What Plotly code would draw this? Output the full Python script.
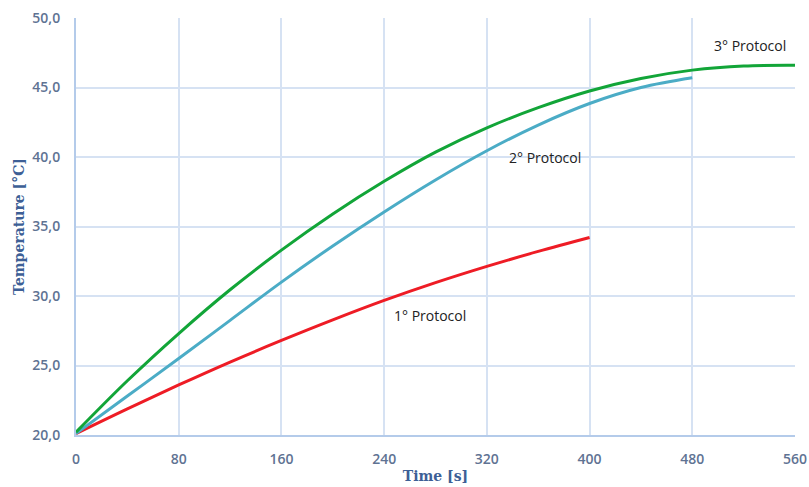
import plotly.graph_objects as go

time_1 = [0, 40, 80, 120, 160, 200, 240, 280, 320, 360, 400]
temp_1 = [20.1, 21.88, 23.6, 25.25, 26.8, 28.28, 29.68, 30.96, 32.13, 33.21, 34.21]

time_2 = [0, 40, 80, 120, 160, 200, 240, 280, 320, 360, 400, 440, 480]
temp_2 = [20.1, 22.8, 25.5, 28.25, 31.0, 33.6, 36.05, 38.35, 40.45, 42.3, 43.85, 45.0, 45.7]

time_3 = [0, 40, 80, 120, 160, 200, 240, 280, 320, 360, 400, 440, 480, 520, 560]
temp_3 = [20.2, 23.9, 27.3, 30.45, 33.3, 35.9, 38.25, 40.35, 42.1, 43.55, 44.75, 45.65, 46.25, 46.55, 46.6]

labels = ["1° Protocol", "2° Protocol", "3° Protocol"]
label_x = [276, 365, 525]
label_y = [28.6, 40.0, 48.0]

x_ticks = [0, 80, 160, 240, 320, 400, 480, 560]
y_ticks = [20, 25, 30, 35, 40, 45, 50]

fig = go.Figure()
fig.add_trace(go.Scatter(x=time_1, y=temp_1, mode="lines", line=dict(color="#ee1c25", width=3, shape="spline"), name=labels[0]))
fig.add_trace(go.Scatter(x=time_2, y=temp_2, mode="lines", line=dict(color="#4bacc6", width=3, shape="spline"), name=labels[1]))
fig.add_trace(go.Scatter(x=time_3, y=temp_3, mode="lines", line=dict(color="#12a538", width=3, shape="spline"), name=labels[2]))

for t, x, y in zip(labels, label_x, label_y):
    fig.add_annotation(x=x, y=y, text=t, showarrow=False,
                       font=dict(family="Open Sans, sans-serif", size=14, color="#222222"))

grid = "#d6e2f3"
tickfont = dict(family="Open Sans, sans-serif", size=14, color="#5f7393", weight=600)
titlefont = dict(family="DejaVu Serif, serif", size=14, color="#3d5f96")

fig.update_layout(
    width=809, height=487,
    margin=dict(l=76, r=14, t=18, b=52),
    plot_bgcolor="white", paper_bgcolor="white",
    showlegend=False,
    separators=",.",
    xaxis=dict(range=[0, 560], tickvals=x_ticks, showgrid=True, gridcolor=grid, gridwidth=1.5,
               zeroline=False, showline=True, linecolor="#b4cbea", linewidth=2, automargin=False,
               tickfont=tickfont, ticks="outside", ticklen=10, tickcolor="rgba(0,0,0,0)",
               title=dict(text="<b>Time [s]</b>", font=titlefont, standoff=4)),
    yaxis=dict(range=[20, 50], tickvals=y_ticks, tickformat=".1f", showgrid=True, gridcolor=grid, gridwidth=1.5,
               zeroline=False, showline=True, linecolor="#b4cbea", linewidth=2, automargin=False,
               tickfont=tickfont, ticks="outside", ticklen=11, tickcolor="rgba(0,0,0,0)",
               title=dict(text="<b>Temperature [°C]</b>", font=titlefont, standoff=4)),
)
fig.write_html("out.html")
